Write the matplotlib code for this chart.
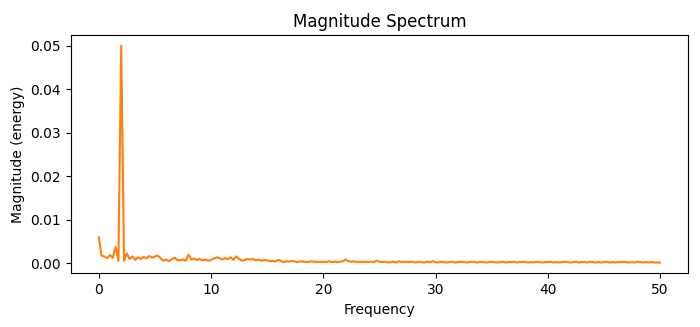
import numpy as np
import matplotlib.pyplot as plt

# frequency bins, 0 to 50 Hz in steps of 0.25
freq = np.arange(0, 50.001, 0.25)

# magnitude values, in units of 1e-3
mag_0_5 = [6.0, 1.8, 1.6, 1.2, 1.9, 1.3, 3.8, 0.6, 50.0, 0.6,
           2.3, 1.0, 1.6, 0.8, 1.4, 1.0, 1.5, 1.2, 1.7, 1.3]
mag_5_10 = [1.6, 1.8, 1.2, 0.6, 0.9, 0.5, 1.0, 1.3, 0.8, 0.7,
            0.9, 0.6, 2.0, 0.9, 1.1, 0.8, 1.0, 0.7, 0.9, 0.6]
mag_10_15 = [0.8, 1.1, 1.4, 1.2, 0.9, 1.2, 1.0, 1.4, 0.8, 1.6,
             1.0, 0.6, 0.8, 1.0, 0.9, 1.0, 0.7, 0.9, 0.6, 0.8]
mag_15_20 = [0.7, 0.5, 0.6, 0.4, 0.8, 0.5, 0.3, 0.5, 0.4, 0.6,
             0.4, 0.3, 0.5, 0.4, 0.3, 0.4, 0.5, 0.3, 0.4, 0.3]
mag_20_25 = [0.4, 0.3, 0.5, 0.3, 0.4, 0.3, 0.4, 0.5, 0.9, 0.5,
             0.4, 0.5, 0.3, 0.4, 0.3, 0.4, 0.3, 0.4, 0.3, 0.6]
mag_25_30 = [0.4, 0.3, 0.4, 0.2, 0.3, 0.4, 0.2, 0.5, 0.3, 0.4,
             0.3, 0.4, 0.3, 0.2, 0.4, 0.3, 0.2, 0.4, 0.3, 0.5]
mag_30_35 = [0.3, 0.2, 0.4, 0.3, 0.2, 0.3, 0.4, 0.2, 0.3, 0.4,
             0.3, 0.2, 0.3, 0.4, 0.3, 0.2, 0.4, 0.3, 0.2, 0.3]
mag_35_40 = [0.4, 0.3, 0.2, 0.3, 0.4, 0.2, 0.3, 0.3, 0.4, 0.2,
             0.3, 0.4, 0.3, 0.2, 0.3, 0.2, 0.4, 0.3, 0.2, 0.3]
mag_40_45 = [0.3, 0.4, 0.2, 0.3, 0.2, 0.3, 0.4, 0.3, 0.2, 0.3,
             0.4, 0.2, 0.3, 0.3, 0.2, 0.4, 0.3, 0.2, 0.3, 0.2]
mag_45_50 = [0.3, 0.4, 0.2, 0.3, 0.2, 0.3, 0.3, 0.4, 0.3, 0.2,
             0.3, 0.2, 0.4, 0.3, 0.2, 0.3, 0.2, 0.3, 0.2, 0.2,
             0.2]

mag = np.array(mag_0_5 + mag_5_10 + mag_10_15 + mag_15_20 + mag_20_25
               + mag_25_30 + mag_30_35 + mag_35_40 + mag_40_45 + mag_45_50) * 1e-3

fig = plt.figure(figsize=(7, 3.27), dpi=100)
ax = fig.add_axes([0.101, 0.164, 0.882, 0.729])
ax.plot(freq, mag, color="C1")
ax.set_title("Magnitude Spectrum")
ax.set_xlabel("Frequency")
ax.set_ylabel("Magnitude (energy)")
fig.savefig("out.png", dpi=100)
